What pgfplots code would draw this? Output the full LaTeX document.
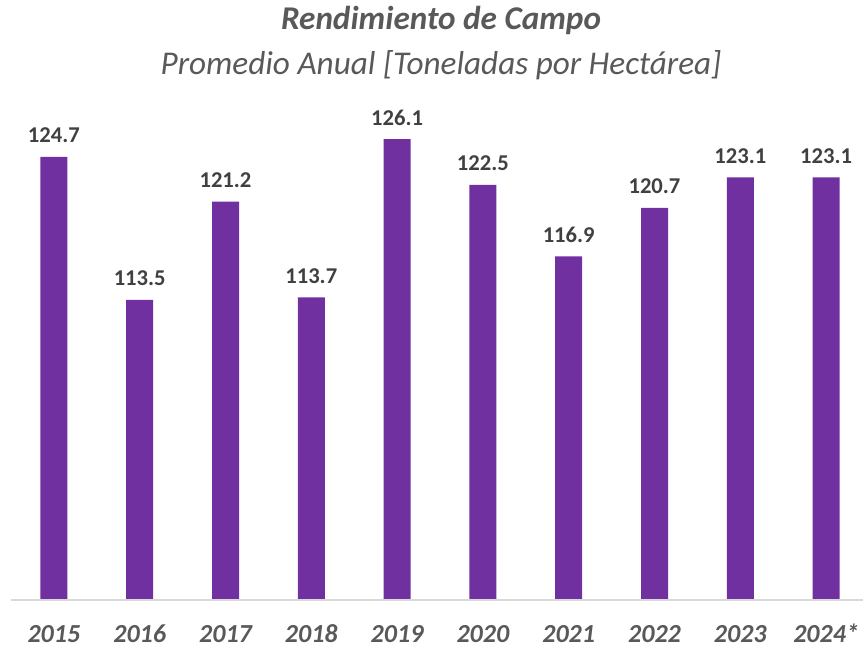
\documentclass[border=0pt]{standalone}
\usepackage{fontspec}
\setmainfont{Carlito}
\usepackage{pgfplots}
\pgfplotsset{compat=1.18}
\definecolor{barpurple}{HTML}{7030A0}
\definecolor{labelgrey}{HTML}{404040}
\definecolor{tickgrey}{HTML}{595959}
\definecolor{linegrey}{HTML}{D9D9D9}

\begin{document}
\begin{tikzpicture}
% frame of the picture (1px = 0.5pt)
\useasboundingbox (-5.5pt,-23.5pt) rectangle (426pt,300pt);
\begin{axis}[
    scale only axis,
    width=426pt,
    height=255.4pt,
    xmin=-0.5, xmax=9.43,
    ymin=90, ymax=130,
    ybar,
    bar width=13.5pt,
    bar shift=0pt,
    axis line style={draw=none},
    axis x line*=bottom,
    hide y axis,
    xtick=data,
    xticklabels={2015,2016,2017,2018,2019,2020,2021,2022,2023,2024*},
    xtick style={draw=none},
    xticklabel style={font=\fontsize{13}{15}\selectfont\bfseries\itshape, text=tickgrey, anchor=base, yshift=-17pt},
    nodes near coords={\pgfmathprintnumber[fixed,fixed zerofill,precision=1,assume math mode=true]{\pgfplotspointmeta}},
    every node near coord/.append style={font=\fontsize{11.3}{13}\selectfont\bfseries, text=labelgrey, anchor=base, yshift=7pt},
    clip=false,
]
\addplot[fill=barpurple, draw=none] coordinates {
    (0,124.7) (1,113.5) (2,121.2) (3,113.7) (4,126.1)
    (5,122.5) (6,116.9) (7,120.7) (8,123.1) (9,123.1)
};
\draw[linegrey, line width=0.75pt] (axis cs:-0.5,90) -- (axis cs:9.43,90);
\end{axis}
\node[anchor=base, text=tickgrey, font=\fontsize{16.6}{19}\selectfont\bfseries\itshape] at (215pt,285pt) {Rendimiento de Campo};
\node[anchor=base, text=tickgrey, font=\fontsize{16.6}{19}\selectfont\itshape] at (215pt,262.5pt) {Promedio Anual [Toneladas por Hectárea]};
\end{tikzpicture}
\end{document}
